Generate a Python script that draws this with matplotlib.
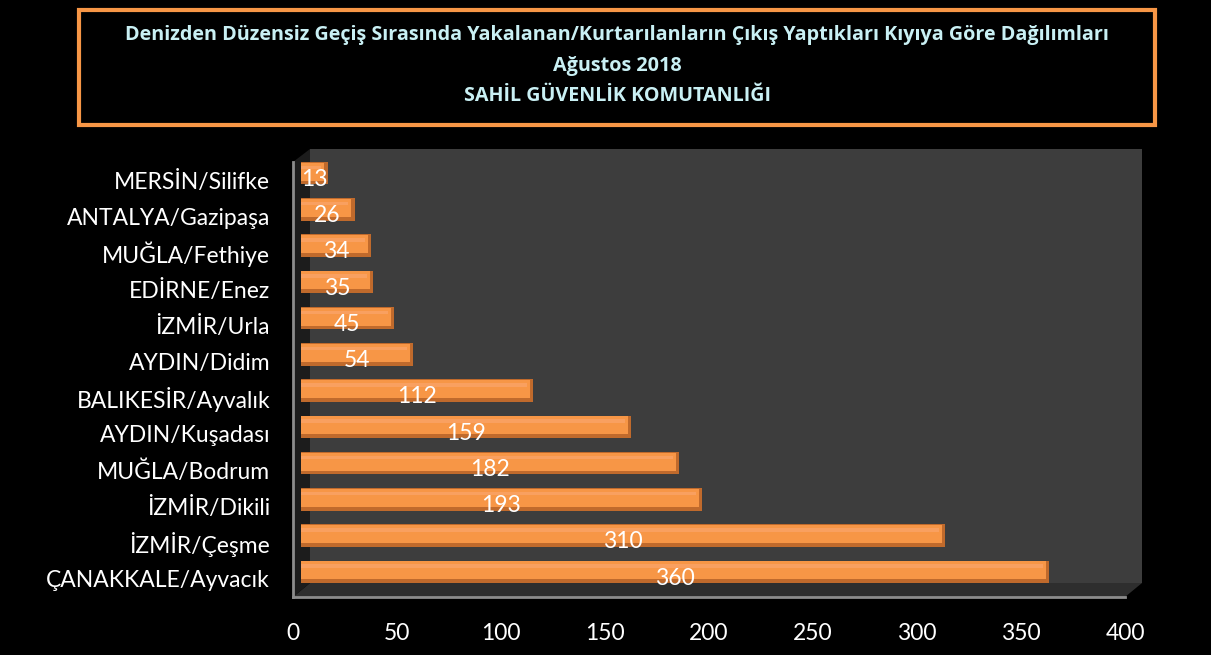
import matplotlib
matplotlib.use("Agg")
import matplotlib.pyplot as plt
from matplotlib.patches import Rectangle, Polygon

categories = ["ÇANAKKALE/Ayvacık", "İZMİR/Çeşme", "İZMİR/Dikili", "MUĞLA/Bodrum",
              "AYDIN/Kuşadası", "BALIKESİR/Ayvalık", "AYDIN/Didim", "İZMİR/Urla",
              "EDİRNE/Enez", "MUĞLA/Fethiye", "ANTALYA/Gazipaşa", "MERSİN/Silifke"]
values = [360, 310, 193, 182, 159, 112, 54, 45, 35, 34, 26, 13]
xticks = [0, 50, 100, 150, 200, 250, 300, 350, 400]
title_lines = ["Denizden Düzensiz Geçiş Sırasında Yakalanan/Kurtarılanların Çıkış Yaptıkları Kıyıya Göre Dağılımları",
               "Ağustos 2018",
               "SAHİL GÜVENLİK KOMUTANLIĞI"]

W, H = 1211, 655
FONT = ["Lato", "DejaVu Sans"]
plt.rcParams['font.family'] = FONT

fig = plt.figure(figsize=(W / 100, H / 100), dpi=100, facecolor="black")

def fx(px):
    return px / W

def fy(py):
    return 1 - py / H

# Title box
fig.patches.append(Rectangle((fx(79), fy(125)), fx(1155) - fx(79), fy(10) - fy(125),
                             transform=fig.transFigure, facecolor="black",
                             edgecolor="#F79646", linewidth=3, zorder=-2))
for line, py in zip(title_lines, [35, 66, 96]):
    fig.text(fx(617), fy(py), line, ha="center", va="center", color="#C9F0F4",
             fontsize=14.2, fontweight="bold", family=["Open Sans", "DejaVu Sans"], zorder=2)

# 3D walls
back = Rectangle((fx(310), fy(583)), fx(1142) - fx(310), fy(149) - fy(583),
                 transform=fig.transFigure, facecolor="#3D3D3D", edgecolor="none", zorder=-2)
floor = Polygon([(fx(293), fy(597)), (fx(1125), fy(597)), (fx(1142), fy(583)), (fx(310), fy(583))],
                closed=True, transform=fig.transFigure, facecolor="#2E2E2E", edgecolor="none", zorder=-2)
side = Polygon([(fx(293), fy(597)), (fx(293), fy(162)), (fx(310), fy(149)), (fx(310), fy(583))],
               closed=True, transform=fig.transFigure, facecolor="#1C1C1C", edgecolor="none", zorder=-2)
fig.patches.extend([back, floor, side])

# Front axes (ticks)
ax = fig.add_axes([fx(293), fy(597), fx(1125) - fx(293), fy(162) - fy(597)])
ax.set_facecolor("none")
ax.set_xlim(0, 400)
ax.set_ylim(-0.5, 11.5)
ax.set_xticks(xticks)
ax.set_xticklabels([str(t) for t in xticks])
ax.set_yticks(range(len(categories)))
ax.set_yticklabels(categories)
ax.tick_params(axis="x", length=0, pad=19, labelsize=16.5, labelcolor="white")
ax.tick_params(axis="y", length=0, pad=16.5, labelsize=16.5, labelcolor="white")
for s in ["top", "right"]:
    ax.spines[s].set_visible(False)
for s in ["left", "bottom"]:
    ax.spines[s].set_color("#8C8C8C")
    ax.spines[s].set_linewidth(2)

# Mid-plane axes (bars)
ax2 = fig.add_axes([fx(300.5), fy(590), fx(1132.5) - fx(300.5), fy(155) - fy(590)])
ax2.set_facecolor("none")
ax2.set_xlim(0, 400)
ax2.set_ylim(-0.5, 11.5)
ax2.axis("off")
ypos = list(range(len(categories)))
ax2.barh(ypos, values, height=0.62, color="#C06A2C", edgecolor="none", zorder=2)
ax2.barh([y + 0.04 for y in ypos], [v - 1.5 for v in values], height=0.5,
         color="#F79646", edgecolor="none", zorder=3)
ax2.barh([y + 0.16 for y in ypos], [v - 3 for v in values], height=0.1,
         color="#F9A060", edgecolor="none", zorder=4)
for y, v in zip(ypos, values):
    ax2.text(v / 2, y - 0.12, str(v), ha="center", va="center_baseline", color="white",
             fontsize=16.5, zorder=5)

fig.savefig("out.png", dpi=100, facecolor="black")
